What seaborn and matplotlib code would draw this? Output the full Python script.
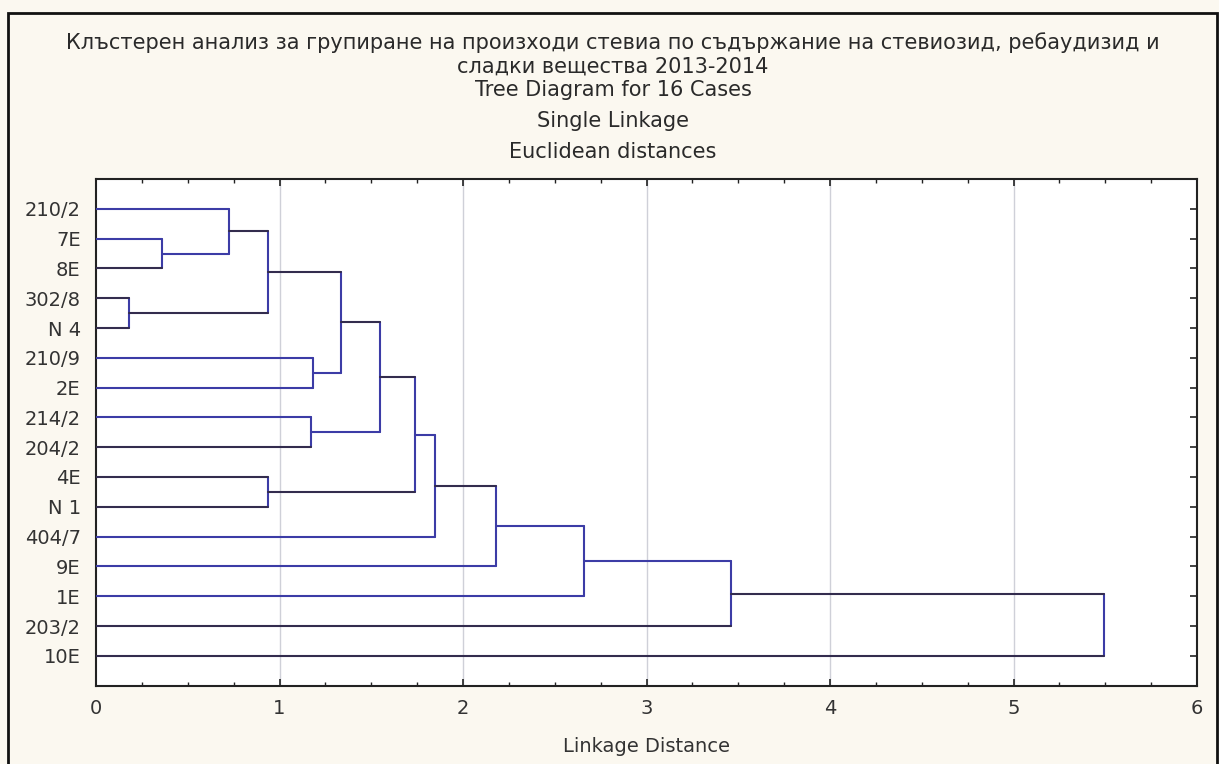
import numpy as np
import pandas as pd
import matplotlib
matplotlib.use("Agg")
import matplotlib.pyplot as plt
import matplotlib.patches as mpatches
import seaborn as sns

# ---------------- data ----------------
leaves = ["210/2", "7E", "8E", "302/8", "N 4", "210/9", "2E", "214/2",
          "204/2", "4E", "N 1", "404/7", "9E", "1E", "203/2", "10E"]
merge_left = ["7E", "210/2", "302/8", "m1", "210/9", "m3", "214/2", "m5",
              "4E", "m7", "m9", "m10", "m11", "m12", "m13"]
merge_right = ["8E", "m0", "N 4", "m2", "2E", "m4", "204/2", "m6",
               "N 1", "m8", "404/7", "9E", "1E", "203/2", "10E"]
merge_dist = [0.36, 0.725, 0.18, 0.935, 1.18, 1.335, 1.17, 1.55,
              0.935, 1.74, 1.845, 2.18, 2.662, 3.46, 5.495]
x_ticks = [0, 1, 2, 3, 4, 5, 6]

title_lines = [
    "Клъстерен анализ за групиране на произходи стевиа по съдържание на стевиозид, ребаудизид и",
    "сладки вещества 2013-2014",
    "Tree Diagram for 16 Cases",
    "Single Linkage",
    "Euclidean distances",
]
x_label = "Linkage Distance"

# style: which horizontal arms appear dark instead of blue
dark_nodes = {"8E", "m1", "302/8", "N 4", "m2", "m3", "m5", "204/2", "m7",
              "4E", "N 1", "m8", "m10", "203/2", "m13", "10E"}
BLUE = "#3c3ca6"
DARK = "#332c4e"

# ---------------- dendrogram geometry ----------------
pos = {name: i + 1 for i, name in enumerate(leaves)}
height = {name: 0.0 for name in leaves}
rows = []
seg = 0
for k, (a, b, d) in enumerate(zip(merge_left, merge_right, merge_dist)):
    node = f"m{k}"
    for child in (a, b):
        c = "dark" if child in dark_nodes else "blue"
        rows.append(dict(seg=seg, x=height[child], y=pos[child], c=c, o=0))
        rows.append(dict(seg=seg, x=d, y=pos[child], c=c, o=1))
        seg += 1
    rows.append(dict(seg=seg, x=d, y=pos[a], c="blue", o=0))
    rows.append(dict(seg=seg, x=d, y=pos[b], c="blue", o=1))
    seg += 1
    pos[node] = (pos[a] + pos[b]) / 2.0
    height[node] = d
df = pd.DataFrame(rows)

# ---------------- figure ----------------
sns.set_theme(style="white")
plt.rcParams["font.family"] = ["DejaVu Sans"]
BG = "#fbf8f0"
fig = plt.figure(figsize=(12.19, 7.64), dpi=100, facecolor=BG)
W, H = 1219, 764
ax = fig.add_axes([96 / W, 1 - 685.6 / H, (1197 - 96) / W, (685.6 - 179) / H])
ax.set_facecolor("white")

for xv in x_ticks[1:-1]:
    ax.axvline(xv, color="#cfd0d8", lw=1.0, zorder=0)

sns.lineplot(data=df, x="x", y="y", units="seg", estimator=None, sort=False,
             hue="c", palette={"blue": BLUE, "dark": DARK}, legend=False,
             lw=1.5, ax=ax, zorder=3)

ax.set_xlim(0, 6)
ax.set_ylim(17, 0)
ax.set_xticks(x_ticks)
ax.set_xticklabels([str(t) for t in x_ticks])
ax.set_xticks(np.arange(0, 6.01, 0.25), minor=True)
ax.set_yticks(range(1, len(leaves) + 1))
ax.set_yticklabels(leaves)
ax.tick_params(axis="both", which="both", direction="in", top=True, right=True,
               left=True, bottom=True, colors="#222222", labelcolor="#333333",
               labelsize=14)
ax.tick_params(axis="x", which="major", length=5, width=1.2, pad=10)
ax.tick_params(axis="x", which="minor", length=3, width=1.0)
ax.tick_params(axis="y", which="major", length=5, width=1.2, pad=11)
for s in ax.spines.values():
    s.set_color("#222222")
    s.set_linewidth(1.5)
ax.set_xlabel(x_label, fontsize=14, color="#333333", labelpad=13)
ax.set_ylabel("")

ys = [43, 67, 90, 121, 152]
for t, yy in zip(title_lines, ys):
    fig.text(613 / W, 1 - yy / H, t, ha="center", va="center", fontsize=15,
             color="#2a2a2a")

frame = mpatches.Rectangle((8 / W, -0.05), (1216.5 - 8) / W, 1 - 12.7 / H + 0.05,
                           transform=fig.transFigure, fill=False,
                           edgecolor="#111111", lw=2, zorder=10)
fig.patches.append(frame)

fig.savefig("out.png", dpi=100, facecolor=BG)
